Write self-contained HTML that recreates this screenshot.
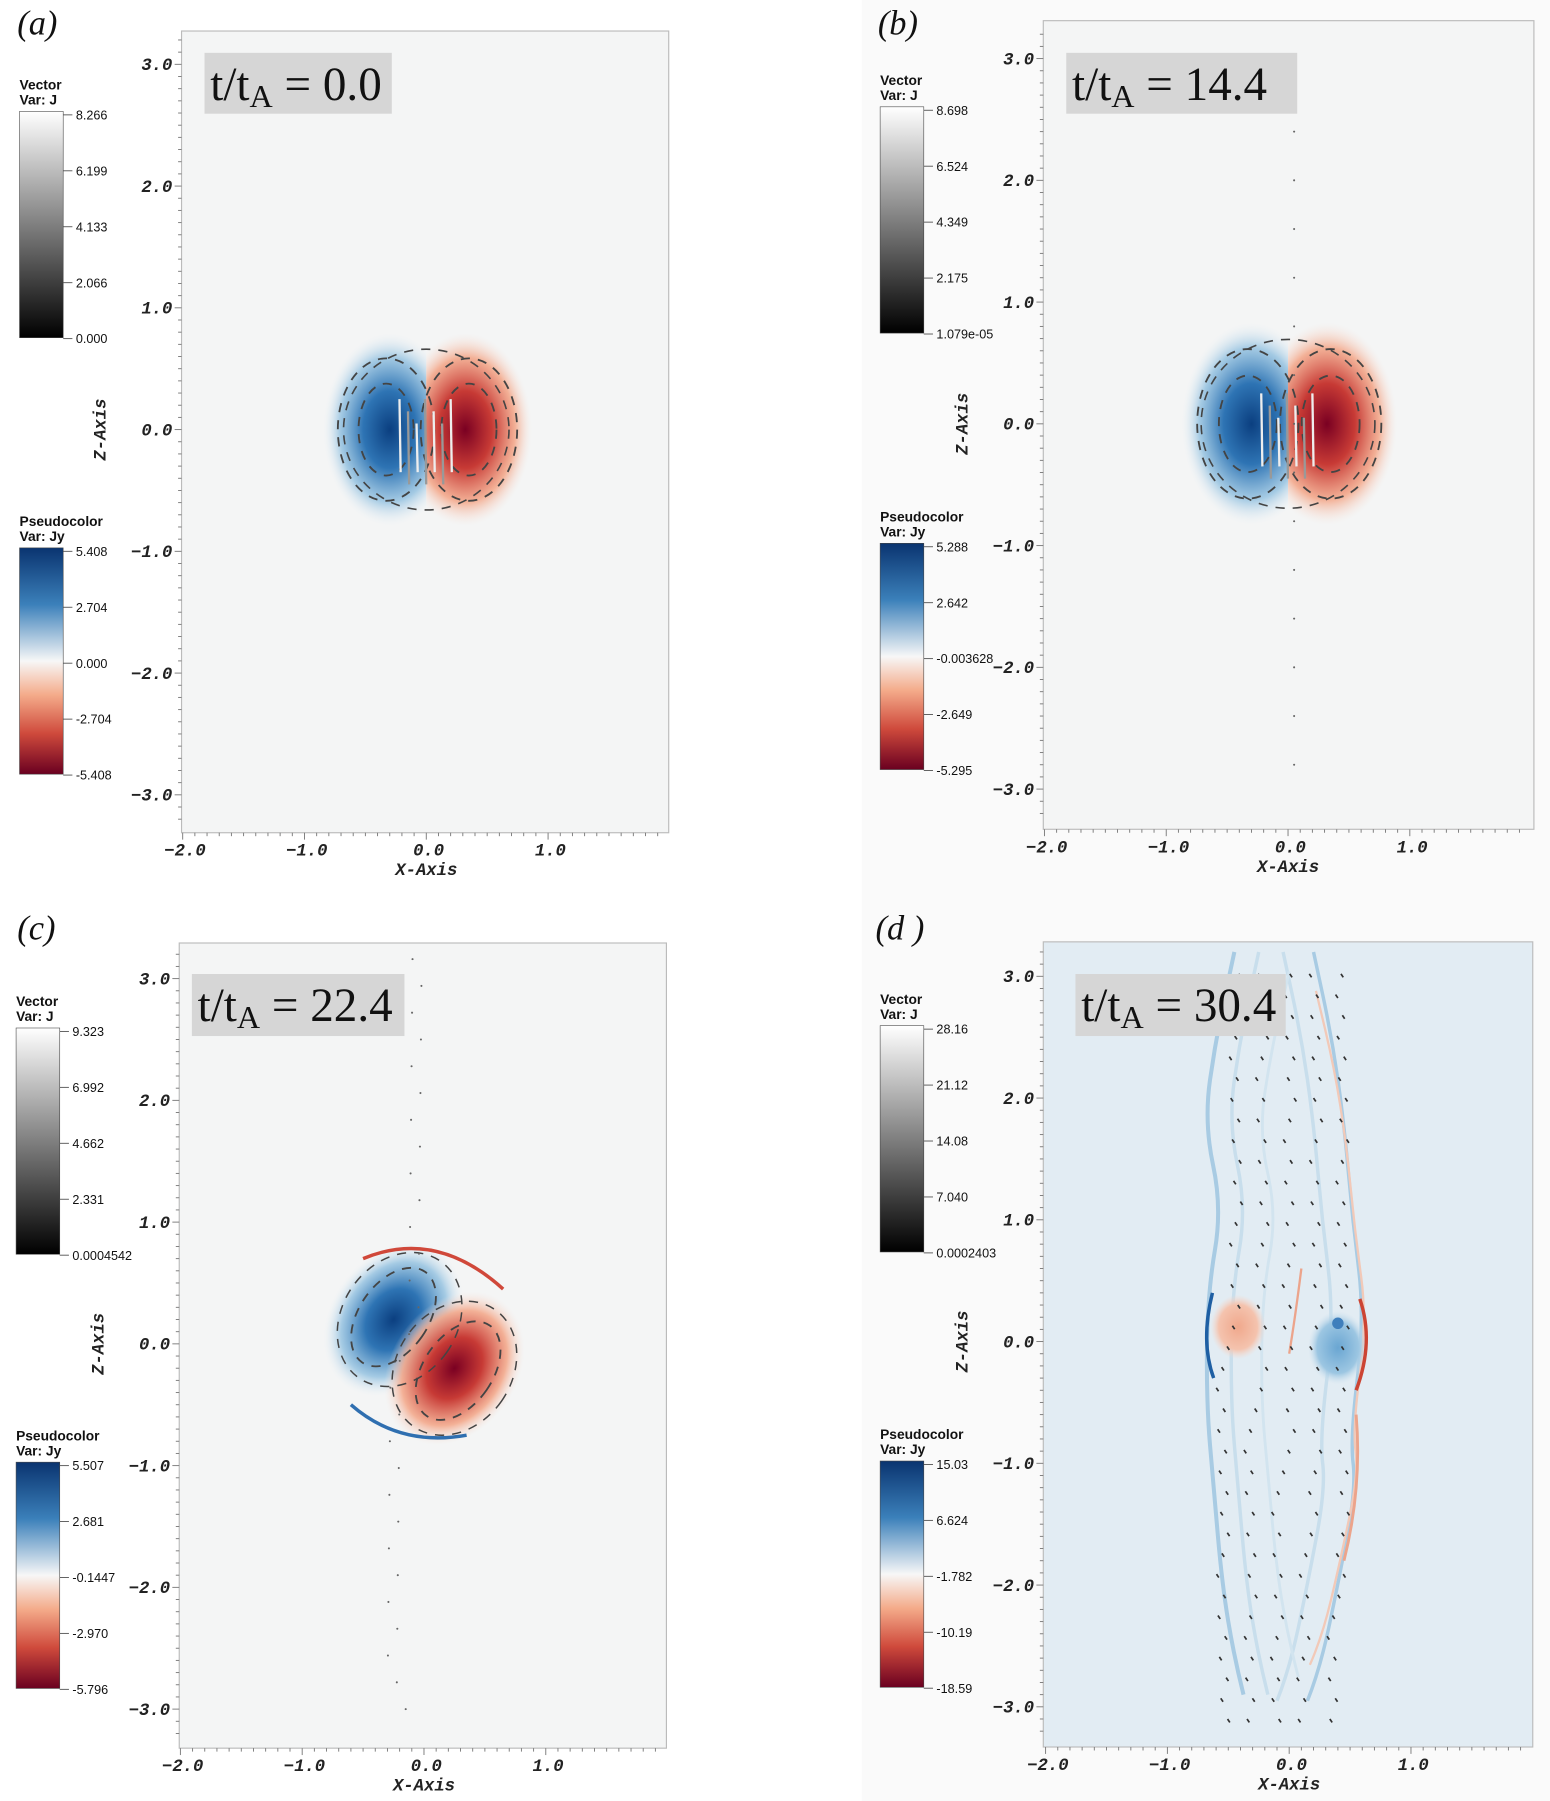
<!DOCTYPE html>
<html><head><meta charset="utf-8"><style>
html,body{margin:0;padding:0;background:#fff}
svg{display:block}
text{font-family:"Liberation Sans",sans-serif}
.tk{font-family:"Liberation Mono",monospace;font-weight:bold;font-style:italic;font-size:15px;fill:#222}
.cb{font-size:11px;fill:#111}
.cbt{font-size:12px;fill:#111;font-weight:bold}
.pl{font-family:"Liberation Serif",serif;font-style:italic;font-size:30px;fill:#111}
.tl{font-family:"Liberation Serif",serif;font-size:41px;fill:#111}
</style></head><body>
<svg id="fig" width="1550" height="1801" viewBox="0 0 1349 1568" preserveAspectRatio="none" xmlns="http://www.w3.org/2000/svg">
<defs>
<linearGradient id="gVec" x1="0" y1="0" x2="0" y2="1"><stop offset="0" stop-color="#fff"/><stop offset="1" stop-color="#000"/></linearGradient>
<linearGradient id="gJy" x1="0" y1="0" x2="0" y2="1">
<stop offset="0" stop-color="#0a3470"/><stop offset="0.25" stop-color="#3b80ba"/><stop offset="0.5" stop-color="#f7f7f7"/><stop offset="0.65" stop-color="#f4ab8a"/><stop offset="0.82" stop-color="#cf4a3c"/><stop offset="1" stop-color="#6a0020"/></linearGradient>
<radialGradient id="rB"><stop offset="0" stop-color="#0b3f80"/><stop offset="0.4" stop-color="#2e74b4"/><stop offset="0.75" stop-color="#9cc6e2" stop-opacity="0.9"/><stop offset="1" stop-color="#e8f0f6" stop-opacity="0"/></radialGradient>
<radialGradient id="rR"><stop offset="0" stop-color="#7a0022"/><stop offset="0.4" stop-color="#c73a35"/><stop offset="0.75" stop-color="#f3a98c" stop-opacity="0.9"/><stop offset="1" stop-color="#f8e6df" stop-opacity="0"/></radialGradient>
<radialGradient id="rLB"><stop offset="0" stop-color="#6aa6d2"/><stop offset="0.7" stop-color="#9cc6e2"/><stop offset="1" stop-color="#cfe2ef" stop-opacity="0"/></radialGradient>
<radialGradient id="rLR"><stop offset="0" stop-color="#f0a88c"/><stop offset="0.7" stop-color="#f4c3ae"/><stop offset="1" stop-color="#f6d8cc" stop-opacity="0"/></radialGradient>
</defs>
<rect x="750" y="0" width="599" height="1568" fill="#fafafa"/>
<g id="root"></g>
</svg>
<script>
const NS="http://www.w3.org/2000/svg";
const root=document.getElementById('root');
let clipN=0;
const U=106;
const yTicks=[3.0,2.0,1.0,0.0,-1.0,-2.0,-3.0];
const xTicks=[-2.0,-1.0,0.0,1.0];
const panelLabels=["(a)","(b)","(c)","(d )"];
const timeLabels=["0.0","14.4","22.4","30.4"];
const vecLabels=[["8.266","6.199","4.133","2.066","0.000"],["8.698","6.524","4.349","2.175","1.079e-05"],["9.323","6.992","4.662","2.331","0.0004542"],["28.16","21.12","14.08","7.040","0.0002403"]];
const jyLabels=[["5.408","2.704","0.000","-2.704","-5.408"],["5.288","2.642","-0.003628","-2.649","-5.295"],["5.507","2.681","-0.1447","-2.970","-5.796"],["15.03","6.624","-1.782","-10.19","-18.59"]];
const P=[
 {x0:371,y0:374,L:158,R:582,T:27,B:725,bg:"#f4f5f5",cbx:17,vt:97,jt:477,lx:15,ly:30,tb:[178,46,163,53]},
 {x0:1121,y0:369,L:908,R:1335,T:18,B:722,bg:"#f4f5f5",cbx:766,vt:93,jt:473,lx:764,ly:30,tb:[928,46,201,53]},
 {x0:369,y0:1170,L:156,R:580,T:821,B:1522,bg:"#f4f5f5",cbx:14,vt:895,jt:1273,lx:15,ly:818,tb:[167,848,185,54]},
 {x0:1122,y0:1168,L:908,R:1334,T:820,B:1521,bg:"#e2ecf3",cbx:766,vt:893,jt:1272,lx:762,ly:818,tb:[936,848,183,54]}];
function el(tag,a,par,txt){const e=document.createElementNS(NS,tag);for(const k in a)e.setAttribute(k,a[k]);if(txt!==undefined)e.textContent=txt;(par||root).appendChild(e);return e;}
function dashArc(par,cx,cy,rx,ry,rot,w){el('ellipse',{cx,cy,rx,ry,fill:'none',stroke:'#444','stroke-width':w||1.6,'stroke-dasharray':'8 7',transform:`rotate(${rot||0} ${cx} ${cy})`},par);}
function halfClip(g,x1,y1,w,h){const id='hc'+(clipN++);const cp=el('clipPath',{id},g);el('rect',{x:x1,y:y1,width:w,height:h},cp);return 'url(#'+id+')';}
function drawField(i,g,sx,sy,p){
 if(i<2){
  const s=i==0?1:1.05;
  const cl=halfClip(g,sx(-1),sy(1),sx(0)-sx(-1),212);
  const cr=halfClip(g,sx(0),sy(1),106,212);
  el('ellipse',{cx:sx(-0.3),cy:sy(0),rx:58*s,ry:84*s,fill:'url(#rB)','clip-path':cl},g);
  el('ellipse',{cx:sx(0.32),cy:sy(0),rx:58*s,ry:84*s,fill:'url(#rR)','clip-path':cr},g);
  [[-0.33],[0.35]].forEach(c=>{dashArc(g,sx(c[0]),sy(0),24*s,40*s);dashArc(g,sx(c[0]),sy(0),42*s,62*s);});
  dashArc(g,sx(0),sy(0),72*s,70*s,0,1.4);
  for(let k=0;k<7;k++){const x=sx(-0.22+k*0.07);el('line',{x1:x,y1:sy(0.25-(k%3)*0.1),x2:x+1,y2:sy(-0.35-(k%2)*0.1),stroke:k%2?'#999':'#eee','stroke-width':2},g);}
  if(i==1){for(let z=-2.8;z<3;z+=0.4){el('circle',{cx:sx(0.05),cy:sy(z),r:0.9,fill:'#666'},g);}}
 } else if(i==2){
  el('ellipse',{cx:sx(-0.25),cy:sy(0.2),rx:55,ry:72,fill:'url(#rB)',transform:`rotate(35 ${sx(-0.25)} ${sy(0.2)})`},g);
  el('ellipse',{cx:sx(0.25),cy:sy(-0.2),rx:55,ry:72,fill:'url(#rR)',transform:`rotate(35 ${sx(0.25)} ${sy(-0.2)})`},g);
  el('path',{d:`M${sx(-0.5)} ${sy(0.7)} Q${sx(0.1)} ${sy(0.95)} ${sx(0.65)} ${sy(0.45)}`,fill:'none',stroke:'#d0483a','stroke-width':3},g);
  el('path',{d:`M${sx(-0.6)} ${sy(-0.5)} Q${sx(-0.2)} ${sy(-0.85)} ${sx(0.35)} ${sy(-0.75)}`,fill:'none',stroke:'#2f6fb0','stroke-width':3},g);
  dashArc(g,sx(-0.25),sy(0.22),30,48,35);dashArc(g,sx(0.28),sy(-0.22),30,48,35);
  dashArc(g,sx(-0.2),sy(0.2),50,62,35,1.3);dashArc(g,sx(0.25),sy(-0.2),50,62,35,1.3);
  for(let z=-3;z<3.2;z+=0.22){el('circle',{cx:sx(-0.15+(z*7%3)*0.05),cy:sy(z),r:0.9,fill:'#666'},g);}
 } else {
  const left=[[-0.45,3.2],[-0.6,2.5],[-0.7,1.8],[-0.55,1.1],[-0.67,0.4],[-0.68,-0.5],[-0.62,-1.2],[-0.55,-2.0],[-0.45,-2.6],[-0.3,-3.2]];
  const right=[[0.2,3.2],[0.35,2.5],[0.45,1.8],[0.52,1.0],[0.62,0.2],[0.5,-0.8],[0.55,-1.2],[0.4,-2.0],[0.25,-2.7],[0.05,-3.2]];
  const pth=a=>{let d='M'+sx(a[0][0])+' '+sy(a[0][1]);for(let k=1;k<a.length;k++){const m=[(a[k-1][0]+a[k][0])/2,(a[k-1][1]+a[k][1])/2];d+=' Q'+sx(a[k-1][0])+' '+sy(a[k-1][1])+' '+sx(m[0])+' '+sy(m[1]);}return d;};
  el('path',{d:pth(left),fill:'none',stroke:'#a8cbe3','stroke-width':3.5},g);
  el('path',{d:pth(right),fill:'none',stroke:'#a8cbe3','stroke-width':3},g);
  el('path',{d:pth(left.map(q=>[q[0]+0.2,q[1]])),fill:'none',stroke:'#c8deec','stroke-width':3},g);
  el('path',{d:pth(right.map(q=>[q[0]-0.25,q[1]])),fill:'none',stroke:'#c8deec','stroke-width':3},g);
  el('path',{d:pth(left.map(q=>[q[0]+0.45,q[1]*0.95])),fill:'none',stroke:'#d2e4ef','stroke-width':2.5},g);
  el('path',{d:pth(right.map(q=>[q[0]+0.02,q[1]*0.9])),fill:'none',stroke:'#f2c9b8','stroke-width':2},g);
  el('ellipse',{cx:sx(-0.42),cy:sy(0.12),rx:24,ry:28,fill:'url(#rLR)'},g);
  el('ellipse',{cx:sx(0.4),cy:sy(-0.05),rx:26,ry:32,fill:'url(#rLB)'},g);
  el('circle',{cx:sx(0.4),cy:sy(0.15),r:5,fill:'#3f7fbc'},g);
  el('path',{d:`M${sx(-0.63)} ${sy(0.4)} Q${sx(-0.73)} ${sy(0)} ${sx(-0.62)} ${sy(-0.3)}`,fill:'none',stroke:'#1e5fa3','stroke-width':3},g);
  el('path',{d:`M${sx(0.58)} ${sy(0.35)} Q${sx(0.7)} ${sy(0)} ${sx(0.55)} ${sy(-0.4)}`,fill:'none',stroke:'#cc4433','stroke-width':3},g);
  el('path',{d:`M${sx(0.55)} ${sy(-0.6)} Q${sx(0.6)} ${sy(-1.2)} ${sx(0.45)} ${sy(-1.8)}`,fill:'none',stroke:'#eca48b','stroke-width':2.5},g);
  el('path',{d:`M${sx(0.1)} ${sy(0.6)} Q${sx(0.05)} ${sy(0.2)} ${sx(0.0)} ${sy(-0.1)}`,fill:'none',stroke:'#eca48b','stroke-width':2},g);
  for(let z=-3.1;z<3.1;z+=0.17){for(let k=0;k<5;k++){const x=-0.5+k*0.22+((z*13+k*7)%5)*0.02;el('line',{x1:sx(x),y1:sy(z),x2:sx(x)+2,y2:sy(z)+3,stroke:'#333','stroke-width':1.5},g);}}
 }
}
P.forEach((p,i)=>{
 const g=el('g',{});
 
 
 const sx=x=>p.x0+x*U, sy=z=>p.y0-z*U;
 const pl=el('text',{x:p.lx,y:p.ly,class:'pl'},g,panelLabels[i]);
 
 
 const fr=el('rect',{x:p.L,y:p.T,width:p.R-p.L,height:p.B-p.T,fill:p.bg,stroke:'#bbb','stroke-width':1},g);
 
 
 const plot=el('g',{},g);
 drawField(i,plot,sx,sy,p);
 for(let z=-3.2;z<=3.25;z+=0.1){const y=sy(z);if(y<p.T||y>p.B)continue;const major=Math.abs(z-Math.round(z))<0.01;el('line',{x1:p.L-(major?6:3),x2:p.L,y1:y,y2:y,stroke:'#777','stroke-width':0.8},g);}
 for(let x=-2;x<=2;x+=0.1){const xx=sx(x);if(xx>p.R)continue;const major=Math.abs(x-Math.round(x))<0.01;el('line',{x1:xx,x2:xx,y1:p.B,y2:p.B+(major?6:3),stroke:'#777','stroke-width':0.8},g);}
 yTicks.forEach(v=>{const t=el('text',{x:p.L-8,y:sy(v)+5,class:'tk','text-anchor':'end'},g,(v<0?'\u2212':'')+Math.abs(v).toFixed(1));
  
  });
 xTicks.forEach(v=>{const t=el('text',{x:sx(v)+2,y:p.B+20,class:'tk','text-anchor':'middle'},g,(v<0?'\u2212':'')+Math.abs(v).toFixed(1));
  
  });
 const xa=el('text',{x:sx(0),y:p.B+37,class:'tk','text-anchor':'middle'},g,'X-Axis');
 
 
 const za=el('text',{x:0,y:0,class:'tk','text-anchor':'middle',transform:`translate(${p.L-66},${p.y0}) rotate(-90)`},g,'Z-Axis');
 
 
 const b=p.tb;
 const tr=el('rect',{x:b[0],y:b[1],width:b[2],height:b[3],fill:'#d6d6d6'},g);
 
 
 const tt=el('text',{x:b[0]+5,y:b[1]+41,class:'tl'},g);
 
 
 el('tspan',{},tt,'t/t');el('tspan',{'font-size':'28px',dy:'6'},tt,'A');el('tspan',{dy:'-6'},tt,' = '+timeLabels[i]);
 [[p.vt,'Vector','Var: J','url(#gVec)',vecLabels[i],'vector-colorbar'],[p.jt,'Pseudocolor','Var: Jy','url(#gJy)',jyLabels[i],'jy-colorbar']].forEach(c=>{
  const cg=el('g',{},g);
  
  
  el('text',{x:p.cbx,y:c[0]-19,class:'cbt'},cg,c[1]);
  el('text',{x:p.cbx,y:c[0]-6,class:'cbt'},cg,c[2]);
  el('rect',{x:p.cbx,y:c[0],width:38,height:197,fill:c[3],stroke:'#444','stroke-width':0.5},cg);
  c[4].forEach((lab,k)=>{const y=c[0]+3+k*48.7;el('line',{x1:p.cbx+38,x2:p.cbx+46,y1:y,y2:y,stroke:'#555','stroke-width':0.8},cg);
   el('text',{x:p.cbx+49,y:y+4,class:'cb'},cg,lab);});
 });
});
</script>
</body></html>
